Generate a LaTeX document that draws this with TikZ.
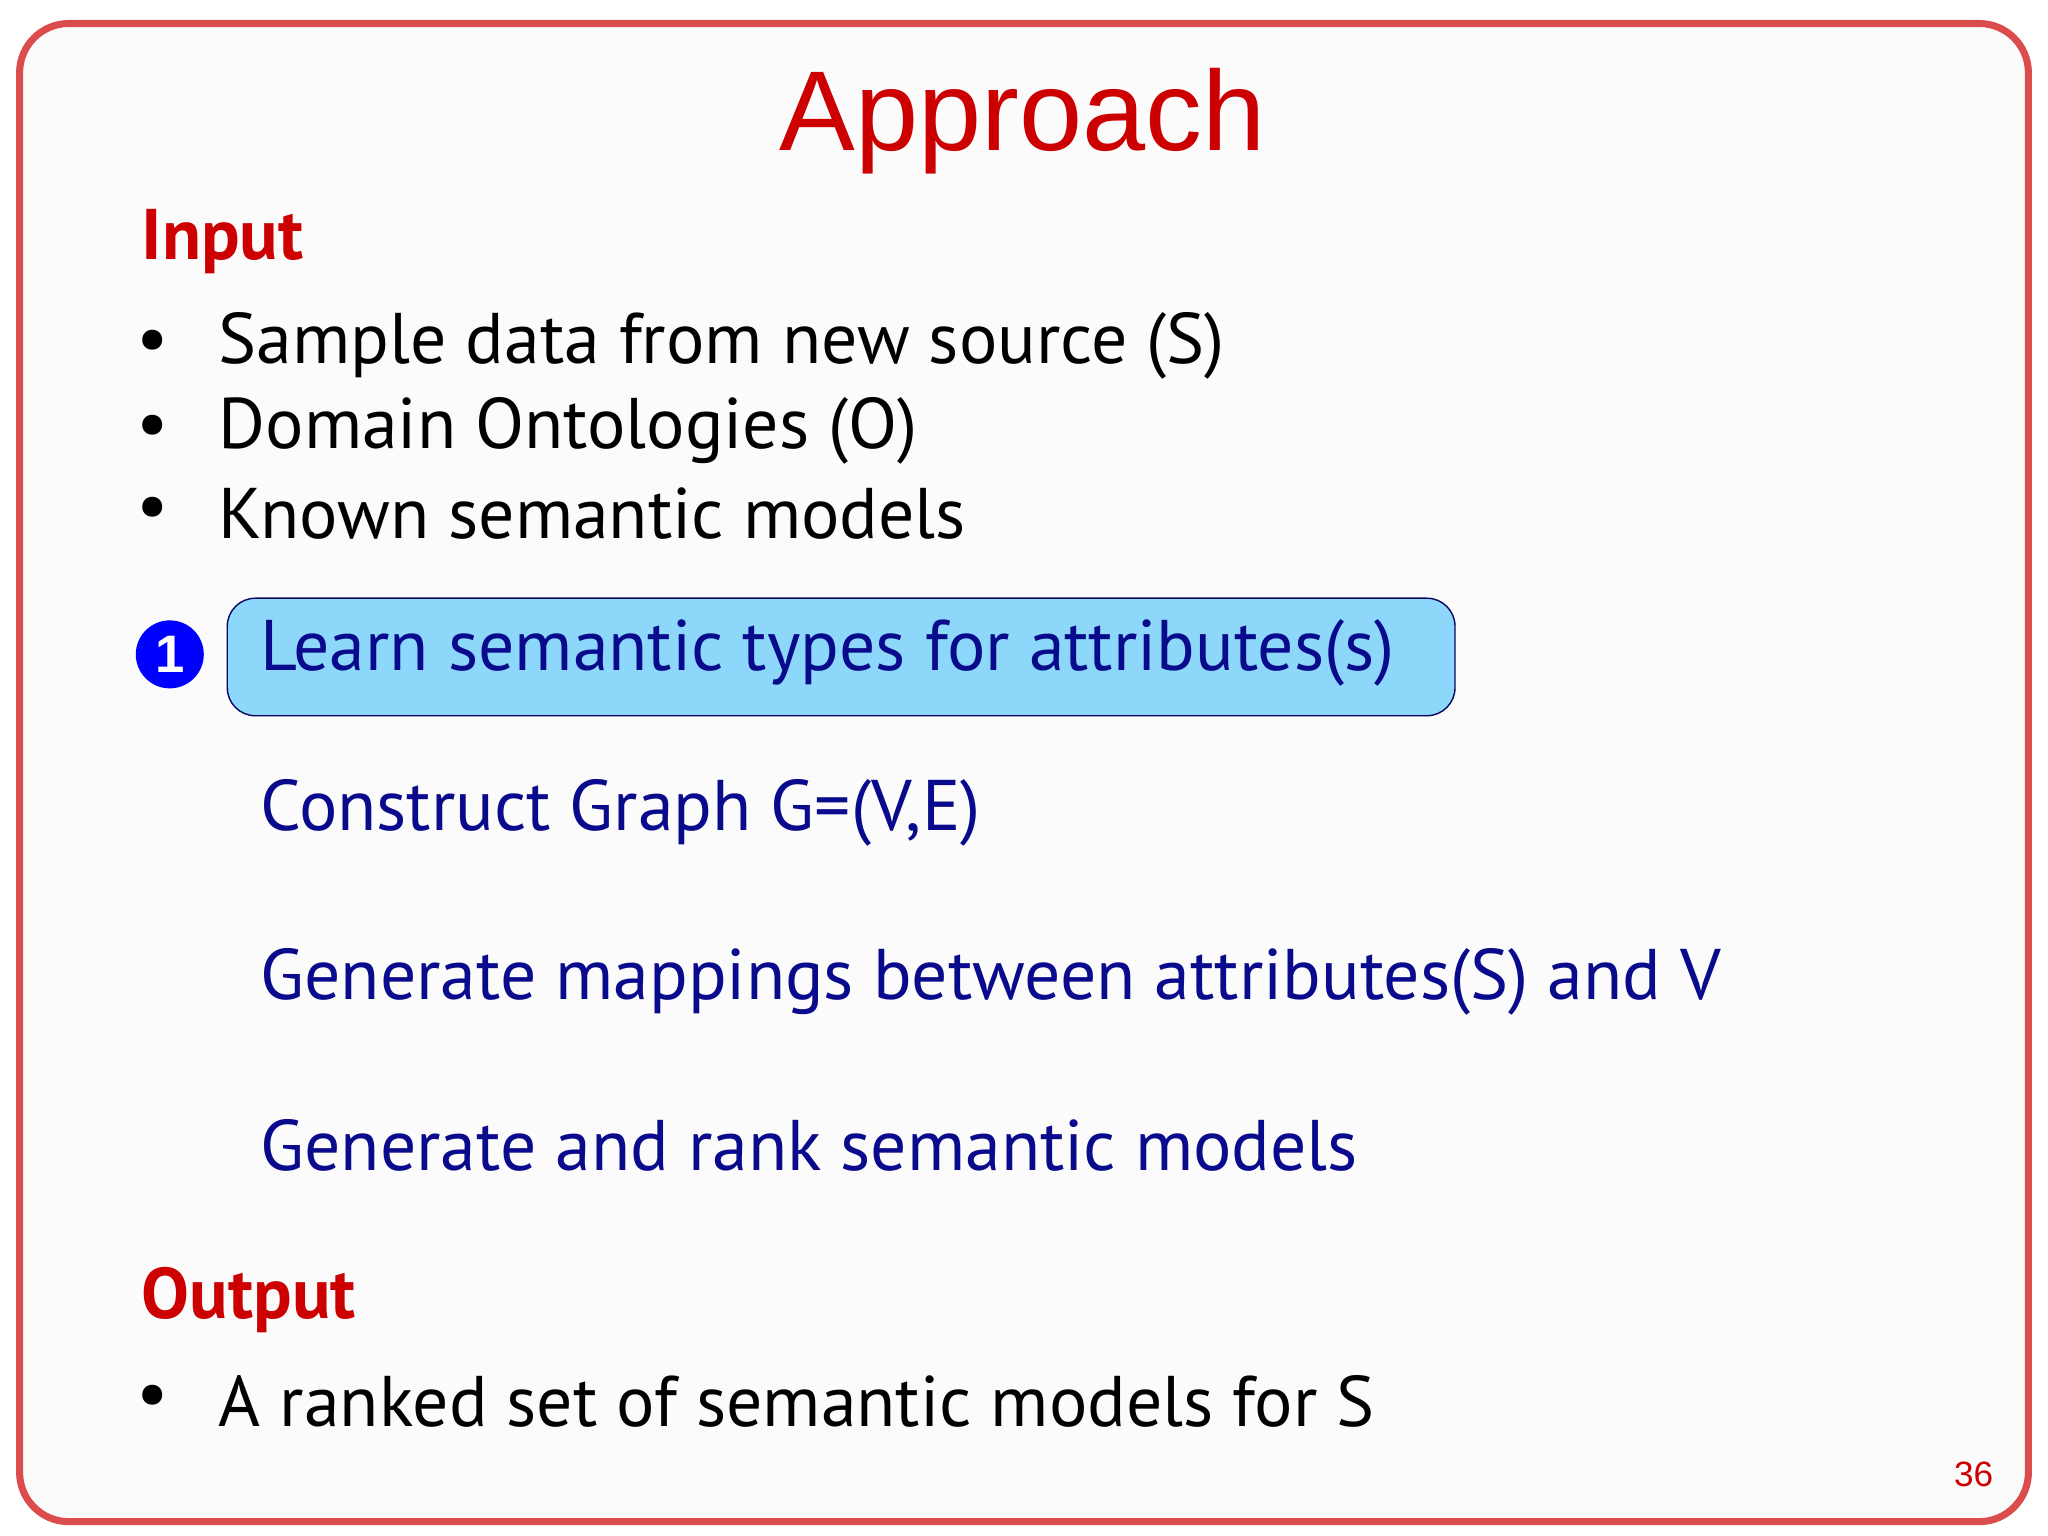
\documentclass[tikz,border=0pt]{standalone}
\usepackage{fontspec}
\setmainfont{PT Sans}
\newfontfamily\titlefont{Liberation Sans}
\usetikzlibrary{positioning}
\definecolor{slidered}{RGB}{204,0,0}
\definecolor{stepblue}{RGB}{10,10,140}
\definecolor{boxblue}{RGB}{140,215,250}

\begin{document}
\begin{tikzpicture}[x=0.01306cm,y=-0.01306cm,
    heading/.style={anchor=west, text=slidered, font=\fontsize{20.4}{24}\selectfont\bfseries, inner sep=0pt},
    bulletline/.style={anchor=west, font=\fontsize{20.4}{24}\selectfont, inner sep=0pt},
    stepline/.style={anchor=west, text=stepblue, font=\fontsize{20.4}{24}\selectfont, inner sep=0pt}]
    \useasboundingbox (0,0) rectangle (1568,1176);
    % slide frame
    \draw[slidered!70, line width=2pt, rounded corners=14pt, fill=gray!3] (15,18) rectangle (1553,1165);

    % title
    \node[text=slidered, font=\titlefont\fontsize{32.3}{38}\selectfont] (title) at (783,93) {Approach};

    % input
    \node[heading] (input) at (108,185) {Input};
    \node[bulletline] (in1) at (167,265) {Sample data from new source (S)};
    \node[bulletline] (in2) at (167,330) {Domain Ontologies (O)};
    \node[bulletline] (in3) at (167,393) {Known semantic models};
    \foreach \n in {in1,in2,in3}
        \node[font=\fontsize{20.4}{24}\selectfont] at ([xshift=-0.65cm]\n.west) {•};

    % steps
    \draw[fill=boxblue, draw=stepblue!70!black, rounded corners=8pt] (174,458) rectangle (1114,548);
    \node[circle, fill=blue, text=white, minimum size=0.68cm, inner sep=0pt,
          font=\titlefont\bfseries\fontsize{15}{18}\selectfont] (num) at (130,501) {1};
    \node[stepline] (s1) at (199,500) {Learn semantic types for attributes(s)};
    \node[stepline] (s2) at (199,622) {Construct Graph G=(V,E)};
    \node[stepline] (s3) at (199,752) {Generate mappings between attributes(S) and V};
    \node[stepline] (s4) at (199,877) {Generate and rank semantic models};

    % output
    \node[heading] (output) at (108,995) {Output};
    \node[bulletline] (out1) at (167,1073) {A ranked set of semantic models for S};
    \node[font=\fontsize{20.4}{24}\selectfont] at ([xshift=-0.65cm]out1.west) {•};

    % page number
    \node[text=slidered, font=\titlefont\fontsize{10}{12}\selectfont] (page) at (1511,1129) {36};
\end{tikzpicture}
\end{document}
